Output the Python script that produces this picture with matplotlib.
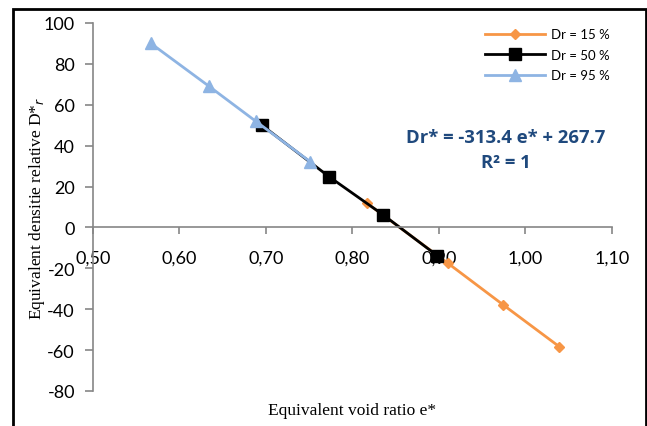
import matplotlib.pyplot as plt
from matplotlib.patches import Rectangle

# Données
e_15 = [0.817, 0.910, 0.974, 1.039]
dr_15 = [11.8, -17.4, -37.8, -58.3]

e_50 = [0.695, 0.773, 0.835, 0.898]
dr_50 = [50.1, 24.8, 6.3, -13.8]

e_95 = [0.567, 0.634, 0.688, 0.751]
dr_95 = [90.0, 69.1, 52.0, 32.2]

x_ticks = [0.5, 0.6, 0.7, 0.8, 0.9, 1.0, 1.1]
y_ticks = [-80, -60, -40, -20, 0, 20, 40, 60, 80, 100]

grey = "#868686"
sans = ["Lato", "DejaVu Sans"]
serif = "Liberation Serif"

fig = plt.figure(figsize=(6.47, 4.27), dpi=100)
ax = fig.add_axes([0.1437, 0.082, 0.8022, 0.8618])

ax.plot(e_15, dr_15, color="#F79646", marker="D", markersize=5.5, lw=2,
        label="Dr = 15 %")
ax.plot(e_50, dr_50, color="black", marker="s", markersize=8, lw=2,
        label="Dr = 50 %")
ax.plot(e_95, dr_95, color="#8EB4E3", marker="^", markersize=8, lw=2,
        label="Dr = 95 %")

ax.set_xlim(0.5, 1.1)
ax.set_ylim(-80, 100)
ax.set_xticks(x_ticks)
ax.set_xticklabels([f"{v:.2f}".replace(".", ",") for v in x_ticks])
ax.set_yticks(y_ticks)
ax.set_yticklabels([str(v) for v in y_ticks])

# axes à la manière d'Excel
ax.spines["top"].set_visible(False)
ax.spines["right"].set_visible(False)
ax.spines["bottom"].set_position(("data", 0))
for s in ["left", "bottom"]:
    ax.spines[s].set_color(grey)
    ax.spines[s].set_linewidth(1.2)
ax.tick_params(axis="x", direction="out", length=5, color=grey, width=1.2,
               pad=11)
ax.tick_params(axis="y", direction="out", length=6, color=grey, width=1.2,
               pad=7)
for lab in ax.get_xticklabels() + ax.get_yticklabels():
    lab.set_family(sans)
    lab.set_fontsize(13)

ax.set_xlabel("Equivalent void ratio e*", family=serif, fontsize=12.5)
ax.xaxis.set_label_coords(0.5, -0.03)
ax.set_ylabel("Equivalent densitie relative D*$_r$", family=serif, fontsize=12.5)
ax.yaxis.set_label_coords(-0.088, 0.5)

leg = ax.legend(loc="upper right", frameon=False, handlelength=4.6,
                prop={"family": sans, "size": 9.5}, handletextpad=0.4,
                bbox_to_anchor=(1.018, 1.018), labelspacing=0.65)

ax.text(0.796, 0.655, "Dr* = -313.4 e* + 267.7\nR² = 1", transform=ax.transAxes,
        ha="center", va="center", fontsize=13.3, fontweight="bold",
        color="#1F497D", family=["Open Sans", "DejaVu Sans"], linespacing=1.5)

# cadre noir autour du graphique
fig.patches.append(Rectangle((13 / 647, -0.1), 633 / 647, 1 - 10 / 427 + 0.1,
                             transform=fig.transFigure, fill=False,
                             edgecolor="black", lw=2))

fig.savefig("out.png", dpi=100)
